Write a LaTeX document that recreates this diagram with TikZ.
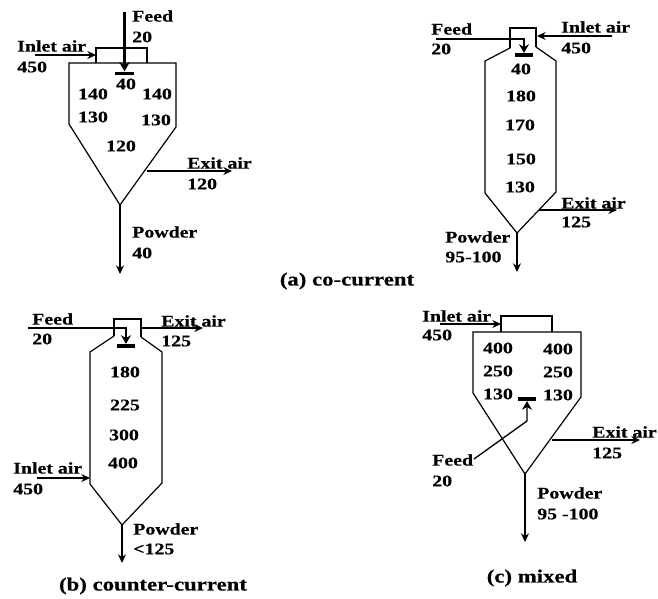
\documentclass[tikz,border=0pt]{standalone}
\usepackage{fontspec}
\newfontfamily\lblfont[FakeStretch=1.22,FakeBold=0.5]{Liberation Serif}
\usetikzlibrary{arrows.meta,positioning}

\begin{document}
\begin{tikzpicture}[
  x=0.75pt, y=-0.75pt,
  >=Stealth,
  lbl/.style={font=\lblfont\bfseries\fontsize{12.2}{14}\selectfont, inner sep=0pt, anchor=west},
  num/.style={font=\lblfont\bfseries\fontsize{12.2}{14}\selectfont, inner sep=0pt},
  capt/.style={font=\lblfont\bfseries\fontsize{14}{16}\selectfont, inner sep=0pt},
  wall/.style={draw=black, line width=0.9pt, line join=miter},
  flow/.style={->, line width=0.9pt, >={Stealth[length=6.5pt,width=6pt]}},
  feedin/.style={->, line width=1pt, >={Stealth[length=6.5pt,width=7.5pt]}},
  nozzle/.style={rectangle, fill=black, minimum width=14pt, minimum height=2.8pt, inner sep=0pt}]
  \useasboundingbox (0,0) rectangle (658,599);

  % (a) co-current
  \draw[wall] (96,63) -- (96,48) -- (147,48) -- (147,63);
  \draw[wall] (69,63) -- (176,63) -- (176,127) -- (120,205) -- (69,124) -- cycle;
  \node[nozzle] (abar) at (124.5,73.5) {};
  \coordinate (afeed) at (124.5,12);
  \coordinate (ain) at (35,55);
  \coordinate (ainto) at (96,55);
  \coordinate (aout) at (147,171);
  \coordinate (aoutto) at (232,171);
  \coordinate (atip) at (120,205);
  \coordinate (apow) at (120,274);
  \draw[->, line width=2.2pt, >={Stealth[length=7pt,width=8pt]}] (afeed) -- (abar);
  \draw[flow] (ain) -- (ainto);
  \draw[flow] (aout) -- (aoutto);
  \draw[flow] (atip) -- (apow);
  \foreach \x/\y/\t [count=\i] in {132/16/Feed, 132/37/20, 17/46/Inlet air, 17/67/450,
      187/163/Exit air, 187/184/120, 132/232/Powder, 132/253/40}
    \node[lbl] (al\i) at (\x,\y) {\t};
  \foreach \x/\y/\t [count=\i] in {126/84/40, 93/94/140, 157/94/140, 93/117/130,
      156/120/130, 121/146/120}
    \node[num] (an\i) at (\x,\y) {\t};

  % (a) caption sits between the rows
  \node[capt] (acap) at (347,281) {(a) co-current};

  % top right vessel
  \draw[wall] (510,48) -- (510,28) -- (536,28) -- (536,47);
  \draw[wall] (510,48) -- (485,61) -- (485,193) -- (517,233) -- (556,192) -- (556,61) -- (536,47);
  \node[nozzle] (tbar) at (524,55) {};
  \coordinate (tfeed) at (436,39);
  \coordinate (tbend) at (524,39);
  \coordinate (tin) at (612,36);
  \coordinate (tinto) at (537,36);
  \coordinate (tout) at (539,210);
  \coordinate (toutto) at (617,210);
  \coordinate (ttip) at (517,233);
  \coordinate (tpow) at (517,272);
  \draw[feedin] (tfeed) -- (tbend) -- (tbar);
  \draw[flow] (tin) -- (tinto);
  \draw[flow] (tout) -- (toutto);
  \draw[flow] (ttip) -- (tpow);
  \foreach \x/\y/\t [count=\i] in {431/29/Feed, 431/49/20, 561/27/Inlet air, 561/48/450,
      561/203/Exit air, 561/222/125, 445/237/Powder, 445/257/95-100}
    \node[lbl] (tl\i) at (\x,\y) {\t};
  \foreach \x/\y/\t [count=\i] in {521/69/40, 521/96/180, 520/125/170, 521/159/150, 520/187/130}
    \node[num] (tn\i) at (\x,\y) {\t};

  % (b) counter-current
  \draw[wall] (114,336) -- (114,319) -- (141,319) -- (141,337);
  \draw[wall] (114,336) -- (90,352) -- (90,484) -- (122,525) -- (162,483) -- (162,352) -- (141,337);
  \node[nozzle] (bbar) at (126,346) {};
  \coordinate (bfeed) at (28,328);
  \coordinate (bbend) at (126,328);
  \coordinate (bout) at (141,328);
  \coordinate (boutto) at (203,328);
  \coordinate (bin) at (37,478);
  \coordinate (binto) at (90,478);
  \coordinate (btip) at (122,525);
  \coordinate (bpow) at (122,563);
  \draw[feedin] (bfeed) -- (bbend) -- (bbar);
  \draw[flow] (bout) -- (boutto);
  \draw[flow] (bin) -- (binto);
  \draw[flow] (btip) -- (bpow);
  \foreach \x/\y/\t [count=\i] in {32/319/Feed, 32/339/20, 161/321/Exit air, 161/341/125,
      13/468/Inlet air, 13/489/450, 133/529/Powder, 133/549/<125}
    \node[lbl] (bl\i) at (\x,\y) {\t};
  \foreach \x/\y/\t [count=\i] in {125/372/180, 125/405/225, 124/435/300, 123/463/400}
    \node[num] (bn\i) at (\x,\y) {\t};
  \node[capt] (bcap) at (153,586) {(b) counter-current};

  % (c) mixed
  \draw[wall] (501,332) -- (501,316) -- (552,316) -- (552,332);
  \draw[wall] (473,332) -- (581,332) -- (581,397) -- (525,474) -- (473,393) -- cycle;
  \node[nozzle] (cbar) at (527,399) {};
  \coordinate (cfeed) at (474,459);
  \coordinate (cbend) at (527,421);
  \coordinate (cin) at (440,324);
  \coordinate (cinto) at (501,324);
  \coordinate (cout) at (552,440);
  \coordinate (coutto) at (640,440);
  \coordinate (ctip) at (525,474);
  \coordinate (cpow) at (525,542);
  \draw[feedin] (cfeed) -- (cbend) -- (cbar);
  \draw[flow] (cin) -- (cinto);
  \draw[flow] (cout) -- (coutto);
  \draw[flow] (ctip) -- (cpow);
  \foreach \x/\y/\t [count=\i] in {422/316/Inlet air, 422/335/450, 592/432/Exit air, 592/453/125,
      432/460/Feed, 432/481/20, 537/493/Powder, 537/514/95 -100}
    \node[lbl] (cl\i) at (\x,\y) {\t};
  \foreach \x/\y/\t [count=\i] in {498/348/400, 558/349/400, 498/371/250, 558/372/250,
      498/394/130, 558/395/130}
    \node[num] (cn\i) at (\x,\y) {\t};
  \node[capt] (ccap) at (532,578) {(c) mixed};
\end{tikzpicture}
\end{document}
